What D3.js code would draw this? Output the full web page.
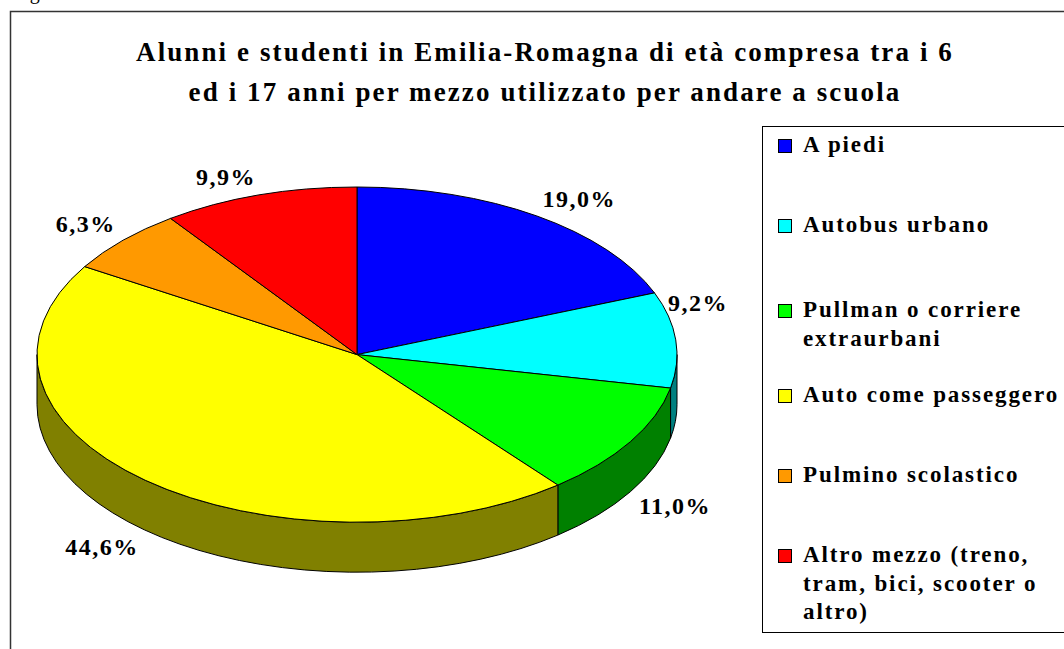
<!DOCTYPE html>
<html>
<head>
<meta charset="utf-8">
<script src="https://cdn.jsdelivr.net/npm/d3@7"></script>
<style>
  body { margin: 0; background: #fff; }
</style>
</head>
<body>
<div id="chart"></div>
<script>
// data
var categories = ["A piedi", "Autobus urbano", "Pullman o corriere extraurbani",
  "Auto come passeggero", "Pulmino scolastico", "Altro mezzo (treno, tram, bici, scooter o altro)"];
var legendLines = [["A piedi"], ["Autobus urbano"], ["Pullman o corriere", "extraurbani"],
  ["Auto come passeggero"], ["Pulmino scolastico"], ["Altro mezzo (treno,", "tram, bici, scooter o", "altro)"]];
var values = [19.0, 9.2, 11.0, 44.6, 6.3, 9.9];
var colors = ["#0000FF", "#00FFFF", "#00FF00", "#FFFF00", "#FF9900", "#FF0000"];
var sideColors = ["#000080", "#008080", "#008000", "#808000", "#804D00", "#800000"];
var titleLines = ["Alunni e studenti in Emilia-Romagna di età compresa tra i 6",
  "ed i 17 anni per mezzo utilizzato per andare a scuola"];

(function () {
  var width = 1064, height = 649;
  var serif = "'Liberation Serif', 'Times New Roman', serif";
  var it = d3.formatLocale({decimal: ",", thousands: ".", grouping: [3], currency: ["", " €"]});
  var fmt = function (v) { return it.format(".1f")(v) + "%"; };

  var svg = d3.select("#chart")
    .append("svg")
    .attr("width", width)
    .attr("height", height);

  // caption cut off at the top of the page
  svg.append("text")
    .attr("x", 13).attr("y", -1)
    .style("font-family", serif).style("font-size", "20px")
    .text("Figura");

  // chart area border
  svg.append("rect")
    .attr("x", 10.5).attr("y", 11.5)
    .attr("width", 1100).attr("height", 700)
    .attr("fill", "none").attr("stroke", "#333").attr("stroke-width", 1.5);

  // title
  svg.append("g").selectAll("text")
    .data(titleLines)
    .join("text")
    .attr("x", 545)
    .attr("y", function (d, i) { return 61 + i * 40; })
    .attr("text-anchor", "middle")
    .style("font-family", serif).style("font-size", "27px").style("font-weight", "bold")
    .style("letter-spacing", "2.1px")
    .text(function (d) { return d; });

  // 3d pie
  var cx = 357, cy = 354.6, rx = 320, ry = 167.6, depth = 50;
  var sx = d3.scaleLinear().domain([-1, 1]).range([cx - rx, cx + rx]);
  var sy = d3.scaleLinear().domain([-1, 1]).range([cy - ry, cy + ry]);
  function px(a) { return sx(Math.sin(a)); }
  function py(a) { return sy(-Math.cos(a)); }

  var arcs = d3.pie().sort(null).value(function (d) { return d; })(values);

  // front wall, only the part between 90 and 270 degrees shows
  var sides = svg.append("g");
  arcs.forEach(function (d, i) {
    var s0 = Math.max(d.startAngle, Math.PI / 2), s1 = Math.min(d.endAngle, 3 * Math.PI / 2);
    if (s1 <= s0) return;
    sides.append("path")
      .attr("d", "M" + px(s0) + "," + py(s0) +
        "A" + rx + "," + ry + " 0 0 1 " + px(s1) + "," + py(s1) +
        "L" + px(s1) + "," + (py(s1) + depth) +
        "A" + rx + "," + ry + " 0 0 0 " + px(s0) + "," + (py(s0) + depth) + "Z")
      .attr("fill", sideColors[i])
      .attr("stroke", "#000").attr("stroke-width", 1).attr("stroke-linejoin", "round");
  });

  svg.append("g").selectAll("path")
    .data(arcs)
    .join("path")
    .attr("d", function (d) {
      var large = d.endAngle - d.startAngle > Math.PI ? 1 : 0;
      return "M" + cx + "," + cy +
        "L" + px(d.startAngle) + "," + py(d.startAngle) +
        "A" + rx + "," + ry + " 0 " + large + " 1 " + px(d.endAngle) + "," + py(d.endAngle) + "Z";
    })
    .attr("fill", function (d, i) { return colors[i]; })
    .attr("stroke", "#000").attr("stroke-width", 1).attr("stroke-linejoin", "round");

  // data labels: box touching an ellipse just outside the pie
  var plotRight = 728, gap = 10, boxH = 18;
  var labels = svg.append("g").selectAll("text")
    .data(arcs)
    .join("text")
    .attr("text-anchor", "middle")
    .style("font-family", serif).style("font-size", "24px").style("font-weight", "bold")
    .style("letter-spacing", "1.5px")
    .text(function (d) { return fmt(d.data); });
  labels.each(function (d) {
    var w = this.getComputedTextLength();
    var a = (d.startAngle + d.endAngle) / 2, s = Math.sin(a), c = Math.cos(a);
    var x = cx + (rx + gap) * s + (s >= 0 ? 1 : -1) * w / 2;
    var y = cy - (ry + gap) * c + (c < 0 ? depth : 0) - (c >= 0 ? 1 : -1) * boxH / 2;
    var over = x + w / 2 - plotRight;
    if (over > 0) { x -= over; y -= 1.5 * over; }
    d3.select(this).attr("x", x).attr("y", y + 8);
  });

  // legend
  var legend = svg.append("g");
  legend.append("rect")
    .attr("x", 762.5).attr("y", 126.5)
    .attr("width", 400).attr("height", 506)
    .attr("fill", "#fff").attr("stroke", "#000").attr("stroke-width", 1);
  var item = legend.selectAll("g.item")
    .data(categories)
    .join("g")
    .attr("class", "item")
    .attr("transform", function (d, i) {
      return "translate(0," + (152 + 80 * i + 5 * Math.min(Math.max(i - 1, 0), 2)) + ")";
    });
  item.append("rect")
    .attr("x", 778.5).attr("y", -12.5)
    .attr("width", 13).attr("height", 13)
    .attr("fill", function (d, i) { return colors[i]; })
    .attr("stroke", "#000").attr("stroke-width", 1);
  item.append("text")
    .attr("x", 803)
    .style("font-family", serif).style("font-size", "23px").style("font-weight", "bold")
    .style("letter-spacing", "1.9px")
    .selectAll("tspan")
    .data(function (d, i) { return legendLines[i]; })
    .join("tspan")
    .attr("x", 803)
    .attr("y", function (d, j) { return j * 28.5; })
    .text(function (d) { return d; });
})();
</script>
</body>
</html>
